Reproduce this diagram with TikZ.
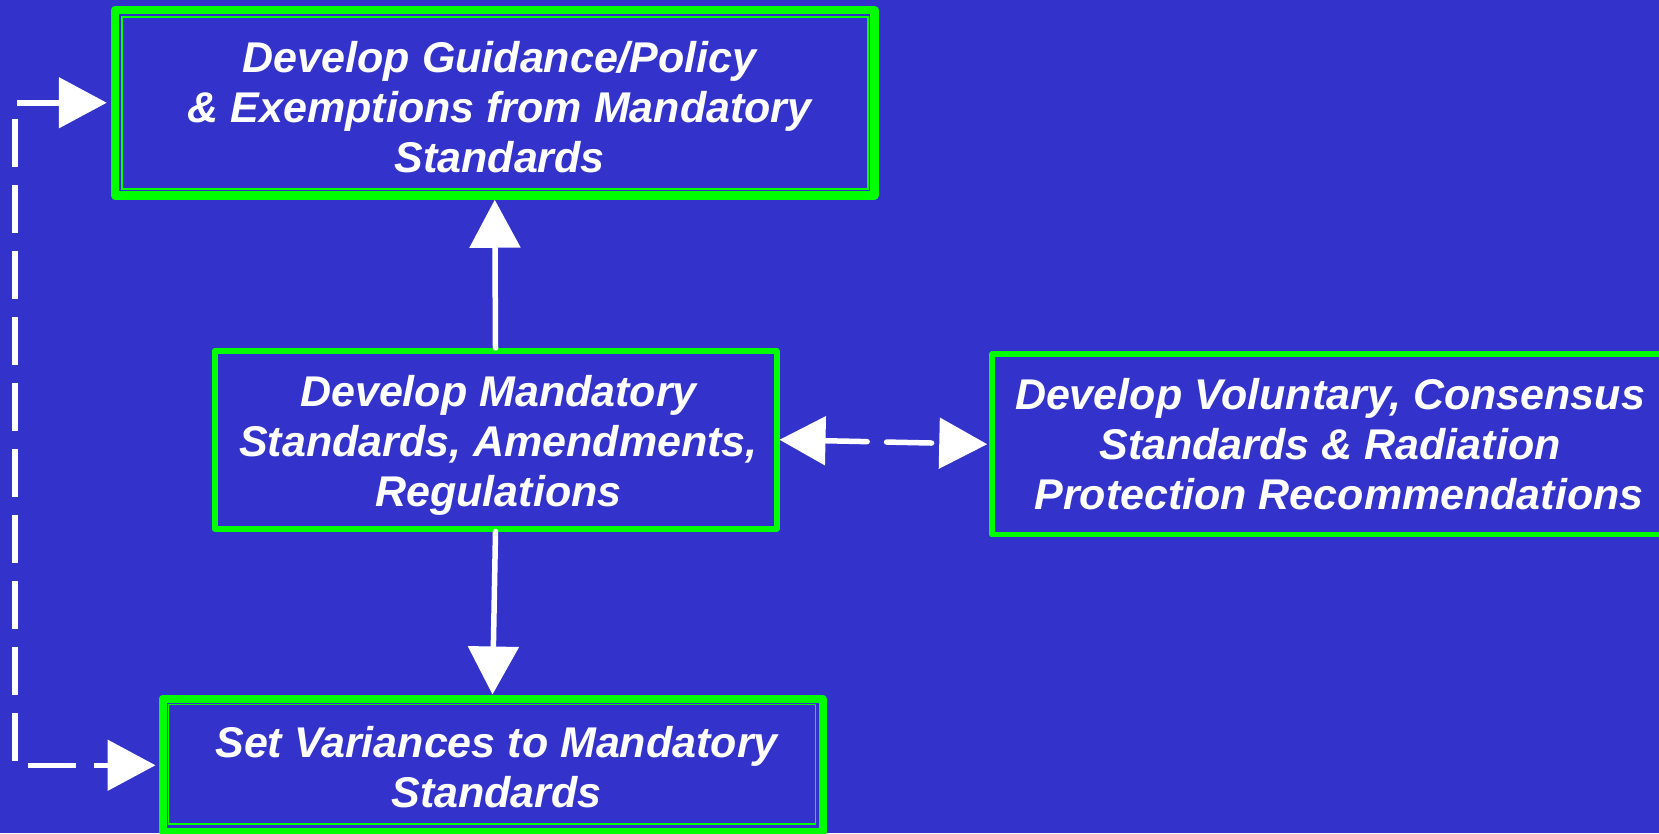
\documentclass[tikz,border=0pt]{standalone}
\usepackage{fontspec}
\setmainfont{Liberation Sans}
\usetikzlibrary{arrows.meta,calc}
\definecolor{bg}{RGB}{51,51,204}
\definecolor{gr}{RGB}{0,255,0}
\tikzset{
  box/.style={draw=gr, rectangle, inner sep=0pt, line join=round},
  boxtext/.style={inner sep=0pt, text=white, align=center,
    font=\fontsize{43}{50}\selectfont\bfseries\itshape},
  dblbox/.style={box, line width=8pt},
  sglbox/.style={box, line width=6pt},
  innerline/.style={draw=gr, line width=1.5pt},
  conn/.style={draw=white, line width=5.5pt, line cap=round, -{Triangle[length=48pt,width=50pt]}},
  dconn/.style={draw=white, line width=5.5pt, line cap=round,
    {Triangle[length=46pt,width=48pt]}-{Triangle[length=48pt,width=50pt]},
    dash pattern=on 45pt off 19.5pt, dash phase=2pt},
  sideconn/.style={draw=white, line width=5.5pt,
    {Triangle[length=48pt,width=50pt]}-{Triangle[length=48pt,width=50pt]},
    dash pattern=on 48pt off 18pt, dash phase=5pt},
}
\begin{document}
\begin{tikzpicture}[x=1pt,y=-1pt]
\fill[bg] (0,0) rectangle (1659,833);
\useasboundingbox (0,0) rectangle (1659,833);
\clip (0,0) rectangle (1659,833);

\node[dblbox, line width=8.5pt, minimum width=759.5pt, minimum height=185.5pt] (top) at (494.75,102.75) {};
\draw[innerline] ($(top.north west)+(11,11)$) rectangle ($(top.south east)+(-11,-11)$);
\node[boxtext] (topT) at ($(top.center)+(5,4)$)
  {Develop Guidance/Policy\\\& Exemptions from Mandatory\\Standards};

\node[sglbox, minimum width=562pt, minimum height=177.5pt] (mid) at (495.5,439.75) {};
\node[boxtext] (midT) at ($(mid.center)+(3,5.5)$)
  {Develop Mandatory\\Standards, Amendments,\\Regulations};

\node[sglbox, line width=5.5pt, minimum width=676pt, minimum height=180.5pt] (right) at (1330,444.25) {};
\node[boxtext] (rightT) at ($(right.center)+(0,0)$)
  {Develop Voluntary, Consensus\\Standards \& Radiation\\\hspace*{18pt}Protection Recommendations};

\node[dblbox, minimum width=660pt, minimum height=133.5pt] (bot) at (492.5,765.25) {};
\draw[innerline] ($(bot.north west)+(10,10)$) rectangle ($(bot.south east)+(-11,-12)$);
\node[boxtext] (botT) at ($(bot.center)+(4,2)$)
  {Set Variances to Mandatory\\Standards};

\coordinate (cL) at (15,0);

\draw[conn] (mid.north) -- (top.south);
\draw[conn] (mid.south) -- (bot.north);
\draw[dconn, shorten >=2pt] (mid.east) -- (right.west);
\draw[sideconn, shorten <=4pt, shorten >=3pt] (top.west) -- (top.west -| cL) -- (bot.west -| cL) -- (bot.west);
\end{tikzpicture}
\end{document}
